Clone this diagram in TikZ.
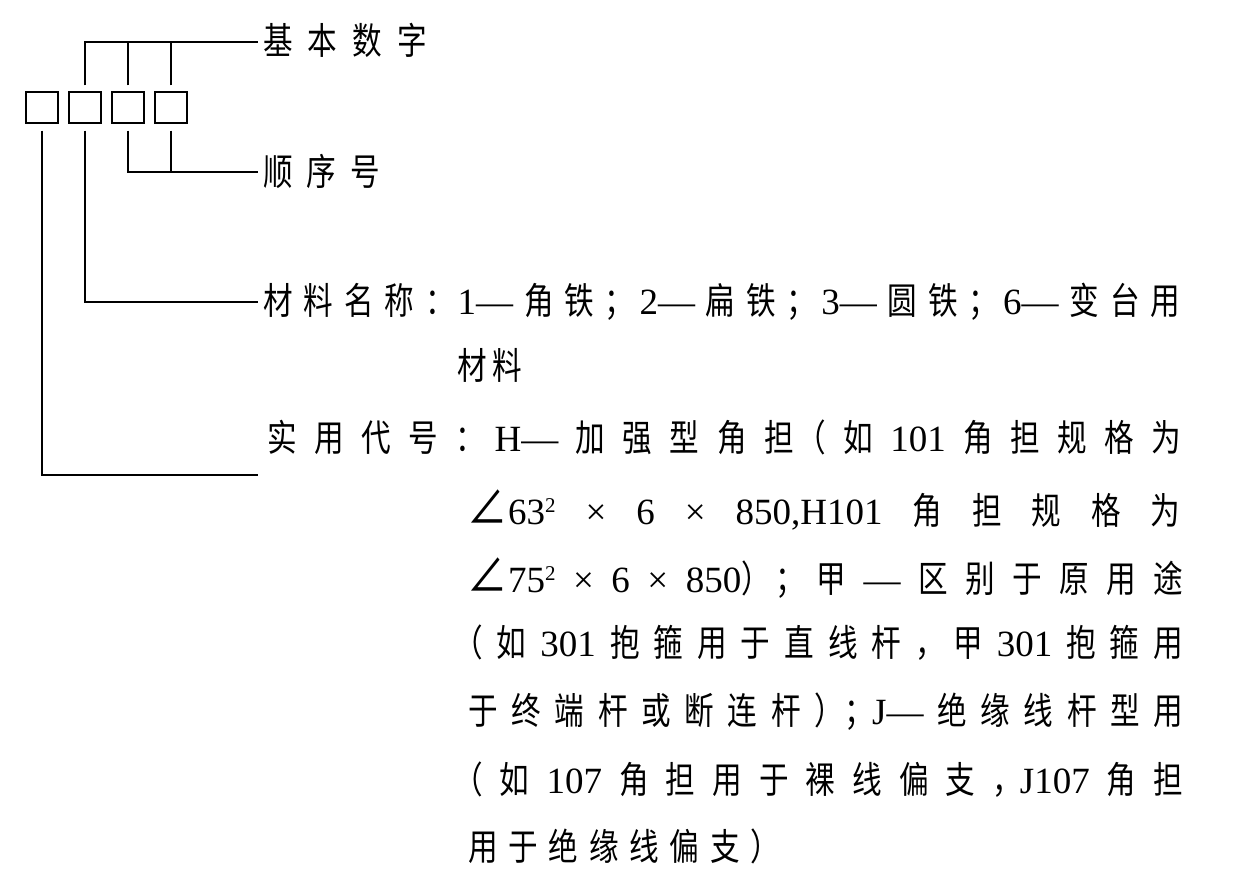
\documentclass[tikz,border=0pt]{standalone}
\usepackage{fontspec}
\setmainfont{Liberation Serif}
\newfontfamily\cjk[Scale=1.0,FakeStretch=0.8]{Noto Sans CJK SC}
\def\cjkchar#1{%
  \ifx#1（\kern-15pt{\cjk #1}%
  \else\ifx#1）{\cjk #1}\kern-13pt%
  \else\ifx#1；{\cjk #1}\kern-6pt%
  \else\ifx#1，{\cjk #1}\kern-6pt%
  \else\ifx#1：{\cjk #1}\kern-8pt%
  \else{\cjk #1}\fi\fi\fi\fi\fi}
\def\cjkspread#1{\cjkfirst#1\relax}
\def\cjkfirst#1{\cjkchar#1\cjkrest}
\def\cjkrest#1{\ifx#1\relax\else\hfil\cjkchar#1\expandafter\cjkrest\fi}
\newcommand\sqtwo{\raisebox{12pt}{\fontsize{21}{21}\selectfont 2}}
\newcommand\ang{\scalebox{1.35}{\cjk ∠}\kern1pt}
\tikzset{
  cell/.style={draw, line width=1.3pt, minimum width=32pt, minimum height=31pt, inner sep=0pt},
  lbl/.style={anchor=base west, inner sep=0pt, font=\fontsize{37}{37}\selectfont},
  conn/.style={line width=1.3pt},
}
\begin{document}
\begin{tikzpicture}[x=1pt,y=-1pt]
\useasboundingbox (0,0) rectangle (1248,882);
% boxes
\node[cell] (b1) at (42,107.5) {};
\node[cell] (b2) at (85,107.5) {};
\node[cell] (b3) at (128,107.5) {};
\node[cell] (b4) at (171,107.5) {};
% free ends of the leaders
\coordinate (e1) at (258,42);
\coordinate (e2) at (258,172);
\coordinate (e3) at (258,302);
\coordinate (e4) at (258,475);
% leaders
\draw[conn, shorten <=6pt] (b2.north) |- (e1);
\draw[conn, shorten <=6pt] (b3.north) -- (b3.north |- e1);
\draw[conn, shorten <=6pt] (b4.north) -- (b4.north |- e1);
\draw[conn, shorten <=7pt] (b3.south) |- (e2);
\draw[conn, shorten <=7pt] (b4.south) -- (b4.south |- e2);
\draw[conn, shorten <=7pt] (b2.south) |- (e3);
\draw[conn, shorten <=7pt] (b1.south) |- (e4);
% labels
\node[lbl] (t1) at (263,55) {\hbox to 164pt{\cjkspread{基本数字}}};
\node[lbl] (t2) at (263,186) {\hbox to 117pt{\cjkspread{顺序号}}};
\node[lbl] (l1) at (263,315) {\hbox to 917pt{\cjkspread{材料名称：}\hfil 1—\hfil\cjkspread{角铁；}\hfil 2—\hfil\cjkspread{扁铁；}\hfil 3—\hfil\cjkspread{圆铁；}\hfil 6—\hfil\cjkspread{变台用}}};
\node[lbl] (l2) at (457,380) {\hbox to 65pt{\cjkspread{材料}}};
\node[lbl] (l3) at (267,452) {\hbox to 914pt{\cjkspread{实用代号：}\hfil H—\hfil\cjkspread{加强型角担（如}\hfil 101\hfil\cjkspread{角担规格为}}};
\node[lbl] (l4) at (467,524) {\hbox to 713pt{\ang 63\sqtwo\hfil ×\hfil 6\hfil ×\hfil 850,H101\hfil\cjkspread{角担规格为}}};
\node[lbl] (l5) at (467,592) {\hbox to 716pt{\ang 75\sqtwo\hfil ×\hfil 6\hfil ×\hfil 850\cjkspread{）；甲}\hfil —\hfil\cjkspread{区别于原用途}}};
\node[lbl] (l6) at (468,656) {\hbox to 715pt{\cjkspread{（如}\hfil 301\hfil\cjkspread{抱箍用于直线杆，甲}\hfil 301\hfil\cjkspread{抱箍用}}};
\node[lbl] (l7) at (468,724) {\hbox to 715pt{\cjkspread{于终端杆或断连杆）；}\kern4pt J—\hfil\cjkspread{绝缘线杆型用}}};
\node[lbl] (l8) at (468,793) {\hbox to 715pt{\cjkspread{（如}\hfil 107\hfil\cjkspread{角担用于裸线偏支，}\kern4pt J107\hfil\cjkspread{角担}}};
\node[lbl] (l9) at (468,860) {\hbox to 312pt{\cjkspread{用于绝缘线偏支）}\kern13pt}};
\end{tikzpicture}
\end{document}
